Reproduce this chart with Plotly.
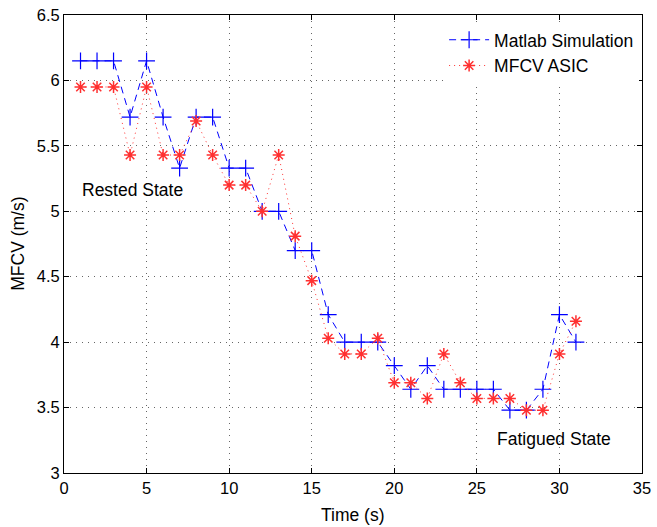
import plotly.graph_objects as go

# Time samples (s)
time_s = list(range(1, 32))

# MFCV estimates (m/s)
matlab_sim = [6.15, 6.15, 6.15, 5.72, 6.15, 5.72, 5.33, 5.72, 5.72, 5.33,
              5.33, 5.00, 5.00, 4.70, 4.70, 4.21, 4.00, 4.00, 4.00, 3.82,
              3.64, 3.82, 3.64, 3.64, 3.64, 3.64, 3.48, 3.48, 3.64, 4.21,
              4.00]
mfcv_asic = [5.95, 5.95, 5.95, 5.43, 5.95, 5.43, 5.43, 5.69, 5.43, 5.20,
             5.20, 5.00, 5.43, 4.81, 4.47, 4.03, 3.91, 3.91, 4.03, 3.69,
             3.69, 3.57, 3.91, 3.69, 3.57, 3.57, 3.57, 3.48, 3.48, 3.91,
             4.16]

x_ticks = [0, 5, 10, 15, 20, 25, 30, 35]
y_ticks = [3, 3.5, 4, 4.5, 5, 5.5, 6, 6.5]

FONT = "Liberation Sans, Arial, Helvetica, sans-serif"
TXT = 17.5
TICK = 16.5

fig = go.Figure()

fig.add_trace(go.Scatter(
    x=time_s, y=matlab_sim, name="Matlab Simulation",
    mode="lines+markers",
    line=dict(color="#0000ff", width=1, dash="7px,5px"),
    marker=dict(symbol="cross-thin-open", size=12,
                line=dict(color="#0000ff", width=1.2)),
))

fig.add_trace(go.Scatter(
    x=time_s, y=mfcv_asic, name="MFCV ASIC",
    mode="lines+markers",
    line=dict(color="#ff3030", width=1, dash="1px,4px"),
    marker=dict(symbol="asterisk-open", size=10,
                line=dict(color="#ff0000", width=1.5)),
))

# State labels inside the axes
fig.add_annotation(x=0.95, y=5.16, text="Rested State", showarrow=False,
                   xanchor="left", yanchor="middle",
                   font=dict(family=FONT, size=TXT, color="#000"))
fig.add_annotation(x=26.1, y=3.26, text="Fatigued State", showarrow=False,
                   xanchor="left", yanchor="middle",
                   font=dict(family=FONT, size=TXT, color="#000"))

# Axis titles placed explicitly
fig.add_annotation(xref="paper", yref="paper", x=0.5, y=-0.092,
                   text="Time (s)", showarrow=False,
                   xanchor="center", yanchor="middle",
                   font=dict(family=FONT, size=TXT, color="#000"))
fig.add_annotation(xref="paper", yref="paper", x=-0.08, y=0.5,
                   text="MFCV (m/s)", showarrow=False, textangle=-90,
                   xanchor="center", yanchor="middle",
                   font=dict(family=FONT, size=TXT, color="#000"))

axis_common = dict(
    showline=True, linecolor="#000", linewidth=1, mirror="allticks",
    ticks="inside", ticklen=5, tickcolor="#000", tickwidth=1,
    showgrid=True, gridcolor="#666", gridwidth=1, griddash="1px,5px",
    zeroline=False, automargin=False,
    tickfont=dict(family=FONT, size=TICK, color="#000"),
)

fig.update_xaxes(range=[0, 35], tickvals=x_ticks,
                 ticktext=[str(v) for v in x_ticks], **axis_common)
fig.update_yaxes(range=[3, 6.5], tickvals=y_ticks,
                 ticktext=[f"{v:g}" for v in y_ticks], **axis_common)

fig.update_layout(
    width=657, height=527,
    margin=dict(l=64, r=15, t=15, b=54),
    paper_bgcolor="#fff", plot_bgcolor="#fff",
    font=dict(family=FONT, size=TXT, color="#000"),
    showlegend=True,
    legend=dict(x=0.995, y=0.985, xanchor="right", yanchor="top",
                bgcolor="#fff", borderwidth=0,
                font=dict(family=FONT, size=TXT, color="#000"),
                itemwidth=40, tracegroupgap=0),
)

fig.write_html("out.html")
